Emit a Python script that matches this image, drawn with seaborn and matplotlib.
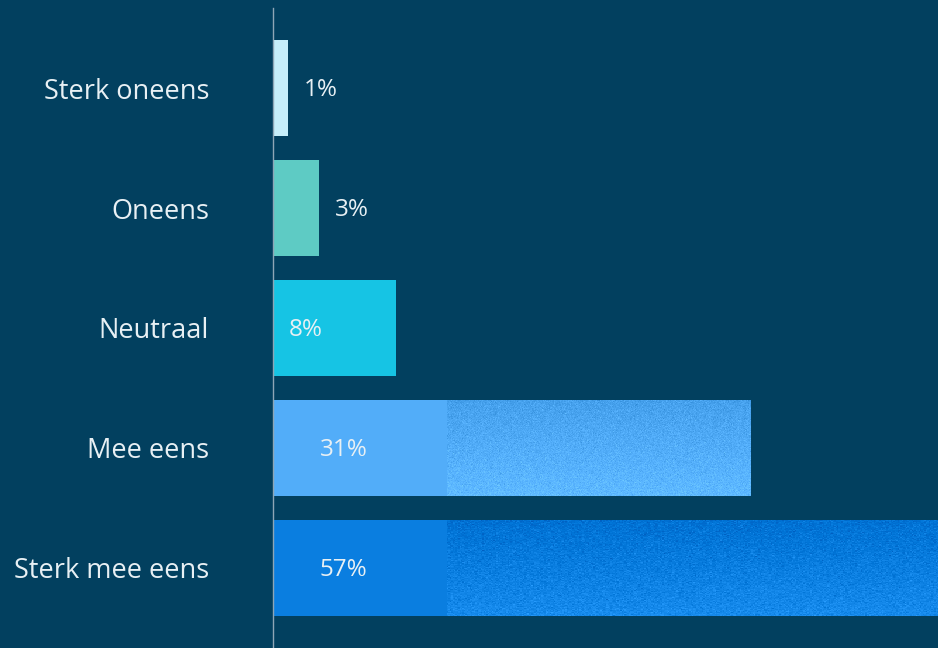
import numpy as np
import pandas as pd
import matplotlib
matplotlib.use("Agg")
import matplotlib.pyplot as plt
import seaborn as sns

categories = ["Sterk oneens", "Oneens", "Neutraal", "Mee eens", "Sterk mee eens"]
values = [1, 3, 8, 31, 57]
value_labels = ["1%", "3%", "8%", "31%", "57%"]
bar_colors = ["#c6eefa", "#5ecbc4", "#16c4e4", "#52adf9", "#0a7ee0"]

BG = "#02405f"
TEXT = "#e8f0f4"

sns.set_theme(style="white")
plt.rcParams["font.family"] = ["Open Sans", "DejaVu Sans"]

df = pd.DataFrame({"categorie": categories, "waarde": values})

fig = plt.figure(figsize=(9.38, 6.48), dpi=100, facecolor=BG)
ax = fig.add_axes([273 / 938, 0, 665 / 938, 640 / 648])
ax.set_facecolor(BG)

sns.barplot(data=df, x="waarde", y="categorie", hue="categorie",
            palette=bar_colors, legend=False, width=0.8, saturation=1,
            orient="h", ax=ax)

ax.set_xlim(0, 43.2)
ax.set_ylim(4.667, -0.667)

# grainy, bottom-brightening finish on the long bars
rng = np.random.default_rng(7)
tex_start = 11.3
for patch, v, col in zip(ax.patches, values, bar_colors):
    patch.set_edgecolor("none")
    if v <= tex_start:
        continue
    y0 = patch.get_y()
    h = patch.get_height()
    ny, nx = 96, 500
    base = np.array(matplotlib.colors.to_rgb(col))
    grad = np.linspace(-0.05, 0.05, ny)[:, None, None]
    noise = rng.normal(0, 0.028, (ny, nx, 1))
    img = np.clip(base[None, None, :] + grad + noise, 0, 1)
    im = ax.imshow(img, extent=(tex_start, v, y0 + h, y0), aspect="auto",
                   interpolation="nearest", zorder=3)
    im.set_clip_path(patch)

ax.set_xlim(0, 43.2)
ax.set_ylim(4.667, -0.667)

# value labels: outside the thinnest bars, inside the others
for i, (v, lab) in enumerate(zip(values, value_labels)):
    if v < 5:
        x, ha = v + 1.0, "left"
    elif v < 20:
        x, ha = 2.1, "center"
    else:
        x, ha = 4.6, "center"
    ax.text(x, i + 0.02, lab, va="center", ha=ha, color=TEXT,
            fontsize=17.5, zorder=5)

ax.set_xlabel("")
ax.set_ylabel("")
ax.set_xticks([])
ax.tick_params(axis="y", length=0, pad=46, labelsize=19.5, labelcolor=TEXT)
for s in ["top", "right", "bottom"]:
    ax.spines[s].set_visible(False)
ax.spines["left"].set_color("#8ea6b6")
ax.spines["left"].set_linewidth(1)
ax.spines["left"].set_zorder(6)

fig.savefig("out.png", dpi=100, facecolor=BG)
